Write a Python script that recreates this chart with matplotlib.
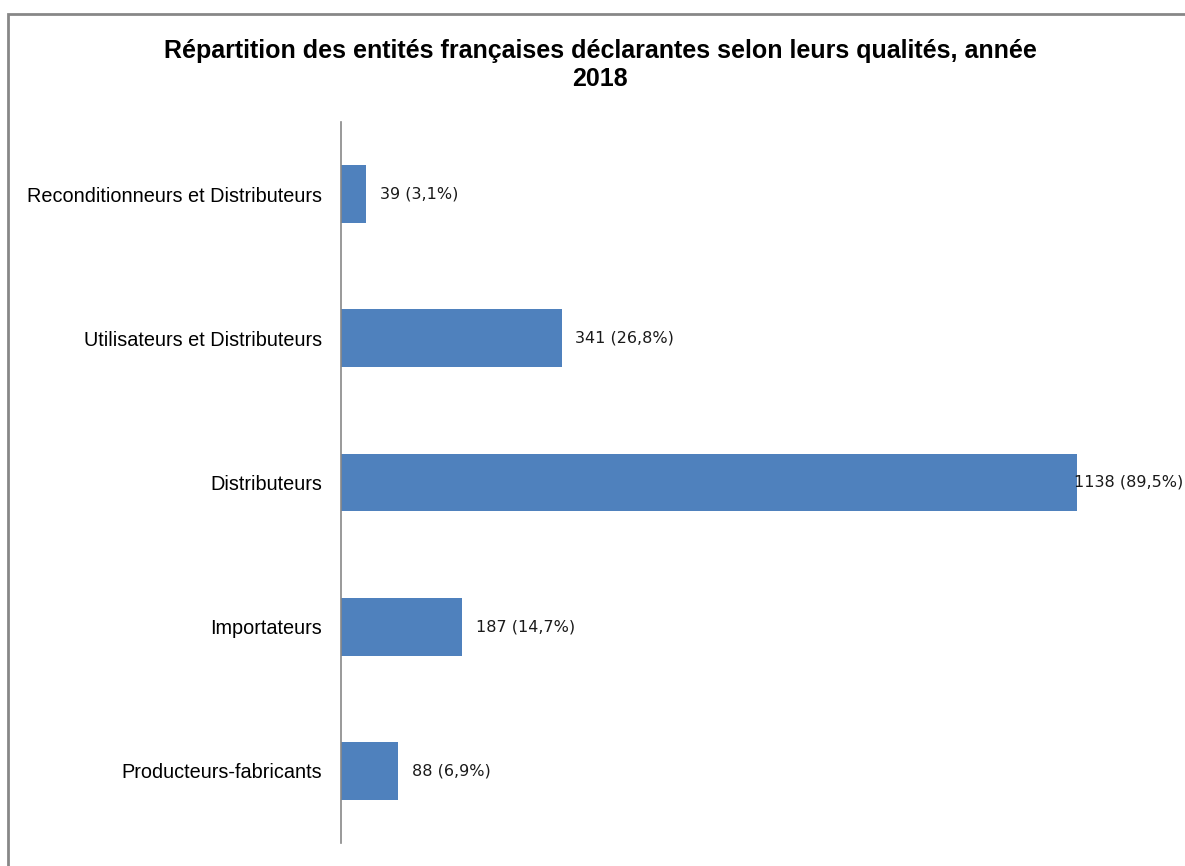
import matplotlib
matplotlib.use('Agg')
import matplotlib.pyplot as plt
from matplotlib.patches import Rectangle

# catégories du bas vers le haut (ordre de tracé barh)
categories = ['Producteurs-fabricants', 'Importateurs', 'Distributeurs',
              'Utilisateurs et Distributeurs', 'Reconditionneurs et Distributeurs']
counts = [88, 187, 1138, 341, 39]
percents = ['6,9', '14,7', '89,5', '26,8', '3,1']

BAR_COLOR = '#4F81BD'
GREY = '#878787'

fig = plt.figure(figsize=(11.85, 8.66), dpi=100)
ax = fig.add_axes([0.2878, 0.0266, 0.6548, 0.8325])

ax.barh(range(len(categories)), counts, height=0.4, color=BAR_COLOR)
ax.set_xlim(0, 1200)
ax.set_ylim(-0.5, len(categories) - 0.5)

ax.set_yticks(range(len(categories)))
ax.set_yticklabels(categories, fontsize=14.3, family='Liberation Sans', color='#000000')
ax.tick_params(axis='y', length=0, pad=13.5)
ax.set_xticks([])
for side in ['top', 'right', 'bottom']:
    ax.spines[side].set_visible(False)
ax.spines['left'].set_color(GREY)
ax.spines['left'].set_linewidth(1.2)

# étiquettes de valeurs, ramenées dans la figure si elles débordent
renderer = fig.canvas.get_renderer()
fig_w = fig.bbox.width
for i, (v, p) in enumerate(zip(counts, percents)):
    t = ax.annotate(f'{v} ({p}%)', xy=(v, i), xytext=(10, 0), textcoords='offset points',
                    va='center', ha='left', fontsize=11.5, family='DejaVu Sans',
                    color='#1a1a1a')
    bb = t.get_window_extent(renderer)
    if bb.x1 > fig_w - 2:
        t.set_position((10 - (bb.x1 - fig_w + 2) * 72 / fig.dpi, 0))

fig.text(0.5065, 0.9245, 'Répartition des entités françaises déclarantes selon leurs qualités, année\n2018',
         ha='center', va='center', fontsize=18, fontweight='bold', family='Liberation Sans',
         linespacing=1.2)

# cadre gris du graphique (bords haut et gauche visibles)
fig.patches.append(Rectangle((8 / 1185, -0.05), 1.1, 1 - 14 / 866 + 0.05, transform=fig.transFigure,
                             fill=False, edgecolor=GREY, linewidth=2))

fig.savefig('out.png', dpi=100)
